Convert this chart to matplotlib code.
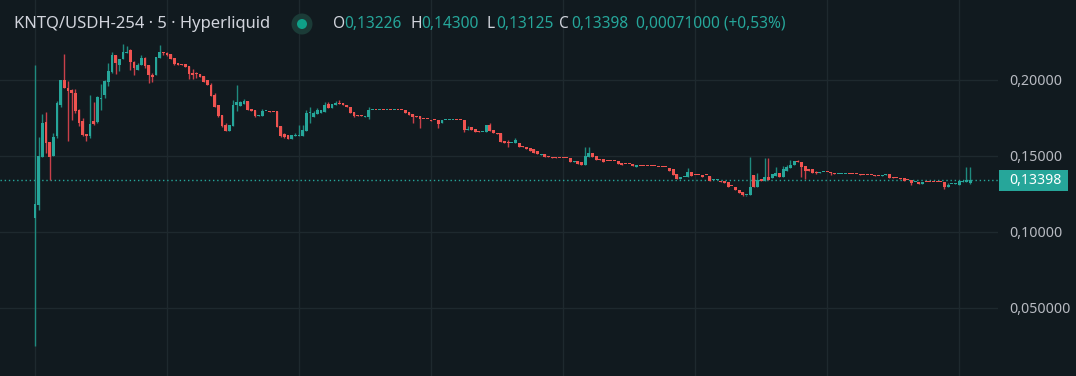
import matplotlib
matplotlib.use("Agg")
import matplotlib.pyplot as plt
from matplotlib.patches import Rectangle, Ellipse

# ---------------- data (5-minute candles) ----------------
opens = [
    0.1092, 0.1178, 0.1495, 0.1726, 0.1592, 0.1500, 0.1632, 0.1836, 0.2000, 0.1947,
    0.1934, 0.1914, 0.1803, 0.1730, 0.1645, 0.1632, 0.1730, 0.1724, 0.1875, 0.1901,
    0.1989, 0.2053, 0.2164, 0.2099, 0.2138, 0.2178, 0.2197, 0.2118, 0.2066, 0.2099,
    0.2145, 0.2099, 0.2033, 0.2033, 0.2145, 0.2184, 0.2178, 0.2171, 0.2145, 0.2112,
    0.2105, 0.2105, 0.2092, 0.2046, 0.2046, 0.2039, 0.2026, 0.2000, 0.1967, 0.1901,
    0.1836, 0.1770, 0.1704, 0.1664, 0.1697, 0.1836, 0.1829, 0.1842, 0.1862, 0.1810,
    0.1803, 0.1763, 0.1763, 0.1796, 0.1796, 0.1790, 0.1796, 0.1700, 0.1645, 0.1638,
    0.1614, 0.1634, 0.1634, 0.1632, 0.1664, 0.1783, 0.1757, 0.1776, 0.1785, 0.1791,
    0.1842, 0.1818, 0.1836, 0.1851, 0.1847, 0.1838, 0.1825, 0.1790, 0.1768, 0.1767,
    0.1759, 0.1759, 0.1800, 0.1803, 0.1800, 0.1803, 0.1800, 0.1803, 0.1800, 0.1803,
    0.1803, 0.1803, 0.1787, 0.1774, 0.1763, 0.1763, 0.1744, 0.1743, 0.1737, 0.1737,
    0.1737, 0.1719, 0.1735, 0.1735, 0.1736, 0.1737, 0.1737, 0.1737, 0.1671, 0.1689,
    0.1675, 0.1667, 0.1656, 0.1656, 0.1704, 0.1671, 0.1651, 0.1653, 0.1599, 0.1588,
    0.1584, 0.1584, 0.1588, 0.1566, 0.1557, 0.1553, 0.1544, 0.1533, 0.1507, 0.1513,
    0.1500, 0.1493, 0.1491, 0.1485, 0.1485, 0.1485, 0.1485, 0.1463, 0.1467, 0.1459,
    0.1443, 0.1496, 0.1522, 0.1500, 0.1480, 0.1480, 0.1467, 0.1467, 0.1467, 0.1467,
    0.1456, 0.1446, 0.1446, 0.1447, 0.1428, 0.1435, 0.1435, 0.1435, 0.1435, 0.1433,
    0.1429, 0.1429, 0.1427, 0.1421, 0.1412, 0.1382, 0.1351, 0.1360, 0.1360, 0.1395,
    0.1374, 0.1374, 0.1373, 0.1376, 0.1368, 0.1341, 0.1341, 0.1338, 0.1336, 0.1329,
    0.1301, 0.1298, 0.1276, 0.1262, 0.1242, 0.1243, 0.1375, 0.1298, 0.1346, 0.1338,
    0.1360, 0.1355, 0.1368, 0.1390, 0.1364, 0.1404, 0.1419, 0.1439, 0.1465, 0.1463,
    0.1434, 0.1412, 0.1412, 0.1397, 0.1390, 0.1395, 0.1394, 0.1393, 0.1386, 0.1380,
    0.1380, 0.1380, 0.1381, 0.1381, 0.1381, 0.1380, 0.1377, 0.1377, 0.1377, 0.1376,
    0.1370, 0.1371, 0.1375, 0.1382, 0.1360, 0.1358, 0.1358, 0.1355, 0.1341, 0.1342,
    0.1326, 0.1329, 0.1318, 0.1328, 0.1328, 0.1328, 0.1328, 0.1328, 0.1327, 0.1298,
    0.1313, 0.1313, 0.1311, 0.1327, 0.1327, 0.13226,
]
highs = [
    0.2099, 0.1625, 0.1776, 0.1789, 0.1592, 0.1651, 0.1862, 0.2000, 0.2171, 0.1993,
    0.1943, 0.1940, 0.1810, 0.1750, 0.1645, 0.1901, 0.1855, 0.1895, 0.1974, 0.2000,
    0.2112, 0.2184, 0.2164, 0.2138, 0.2237, 0.2224, 0.2204, 0.2125, 0.2112, 0.2164,
    0.2151, 0.2099, 0.2046, 0.2151, 0.2230, 0.2184, 0.2184, 0.2171, 0.2145, 0.2112,
    0.2105, 0.2105, 0.2092, 0.2072, 0.2052, 0.2039, 0.2026, 0.2000, 0.1980, 0.1914,
    0.1836, 0.1770, 0.1717, 0.1704, 0.1868, 0.1967, 0.1862, 0.1875, 0.1862, 0.1810,
    0.1803, 0.1770, 0.1810, 0.1799, 0.1796, 0.1790, 0.1796, 0.1700, 0.1651, 0.1638,
    0.1636, 0.1651, 0.1704, 0.1704, 0.1803, 0.1822, 0.1796, 0.1816, 0.1803, 0.1855,
    0.1855, 0.1840, 0.1860, 0.1868, 0.1847, 0.1838, 0.1825, 0.1790, 0.1768, 0.1767,
    0.1766, 0.1822, 0.1803, 0.1803, 0.1803, 0.1803, 0.1803, 0.1803, 0.1803, 0.1803,
    0.1803, 0.1803, 0.1787, 0.1774, 0.1763, 0.1763, 0.1744, 0.1743, 0.1737, 0.1737,
    0.1737, 0.1737, 0.1737, 0.1737, 0.1737, 0.1737, 0.1737, 0.1737, 0.1697, 0.1689,
    0.1675, 0.1667, 0.1658, 0.1704, 0.1717, 0.1671, 0.1651, 0.1653, 0.1599, 0.1605,
    0.1585, 0.1618, 0.1588, 0.1566, 0.1557, 0.1553, 0.1544, 0.1533, 0.1513, 0.1513,
    0.1500, 0.1493, 0.1491, 0.1485, 0.1485, 0.1485, 0.1485, 0.1467, 0.1467, 0.1459,
    0.1557, 0.1557, 0.1522, 0.1500, 0.1480, 0.1480, 0.1467, 0.1467, 0.1467, 0.1467,
    0.1456, 0.1446, 0.1446, 0.1447, 0.1439, 0.1435, 0.1435, 0.1435, 0.1435, 0.1433,
    0.1429, 0.1429, 0.1427, 0.1421, 0.1412, 0.1382, 0.1364, 0.1361, 0.1419, 0.1395,
    0.1374, 0.1374, 0.1373, 0.1376, 0.1368, 0.1342, 0.1342, 0.1338, 0.1336, 0.1329,
    0.1301, 0.1298, 0.1276, 0.1262, 0.1245, 0.1496, 0.1375, 0.1390, 0.1346, 0.1485,
    0.1485, 0.1382, 0.1430, 0.1390, 0.1435, 0.1441, 0.1474, 0.1465, 0.1474, 0.1463,
    0.1434, 0.1412, 0.1412, 0.1401, 0.1397, 0.1396, 0.1394, 0.1393, 0.1386, 0.1381,
    0.1381, 0.1381, 0.1381, 0.1381, 0.1381, 0.1380, 0.1377, 0.1377, 0.1377, 0.1376,
    0.1370, 0.1375, 0.1381, 0.1382, 0.1360, 0.1358, 0.1358, 0.1355, 0.1341, 0.1342,
    0.1327, 0.1329, 0.1331, 0.1328, 0.1328, 0.1328, 0.1328, 0.1328, 0.1327, 0.1320,
    0.1314, 0.1320, 0.1333, 0.1336, 0.1430, 0.14300,
]
lows = [
    0.0250, 0.1145, 0.1495, 0.1522, 0.1342, 0.1500, 0.1618, 0.1822, 0.1947, 0.1599,
    0.1737, 0.1783, 0.1697, 0.1632, 0.1599, 0.1618, 0.1704, 0.1717, 0.1803, 0.1882,
    0.1960, 0.2046, 0.2039, 0.2059, 0.2138, 0.2178, 0.2066, 0.2033, 0.2066, 0.2099,
    0.2079, 0.1980, 0.1987, 0.2033, 0.2145, 0.2164, 0.2158, 0.2138, 0.2099, 0.2099,
    0.2099, 0.2086, 0.2007, 0.2007, 0.2013, 0.2020, 0.1987, 0.1967, 0.1895, 0.1822,
    0.1757, 0.1691, 0.1664, 0.1664, 0.1697, 0.1796, 0.1829, 0.1842, 0.1803, 0.1796,
    0.1757, 0.1763, 0.1763, 0.1794, 0.1790, 0.1789, 0.1693, 0.1627, 0.1618, 0.1614,
    0.1614, 0.1634, 0.1632, 0.1632, 0.1664, 0.1717, 0.1757, 0.1776, 0.1785, 0.1791,
    0.1818, 0.1818, 0.1836, 0.1842, 0.1834, 0.1825, 0.1785, 0.1757, 0.1766, 0.1765,
    0.1759, 0.1746, 0.1800, 0.1800, 0.1800, 0.1800, 0.1800, 0.1800, 0.1800, 0.1800,
    0.1800, 0.1785, 0.1770, 0.1719, 0.1755, 0.1686, 0.1743, 0.1742, 0.1728, 0.1736,
    0.1686, 0.1719, 0.1735, 0.1735, 0.1736, 0.1735, 0.1735, 0.1660, 0.1671, 0.1671,
    0.1660, 0.1658, 0.1656, 0.1656, 0.1667, 0.1650, 0.1645, 0.1595, 0.1583, 0.1561,
    0.1583, 0.1584, 0.1561, 0.1556, 0.1544, 0.1533, 0.1523, 0.1510, 0.1507, 0.1496,
    0.1496, 0.1489, 0.1485, 0.1484, 0.1484, 0.1484, 0.1463, 0.1463, 0.1447, 0.1443,
    0.1443, 0.1496, 0.1496, 0.1474, 0.1476, 0.1463, 0.1466, 0.1466, 0.1466, 0.1447,
    0.1443, 0.1445, 0.1445, 0.1434, 0.1428, 0.1434, 0.1434, 0.1434, 0.1434, 0.1432,
    0.1428, 0.1428, 0.1426, 0.1404, 0.1375, 0.1347, 0.1351, 0.1360, 0.1360, 0.1368,
    0.1373, 0.1373, 0.1364, 0.1375, 0.1338, 0.1341, 0.1341, 0.1331, 0.1320, 0.1298,
    0.1300, 0.1276, 0.1259, 0.1240, 0.1238, 0.1243, 0.1298, 0.1298, 0.1338, 0.1338,
    0.1342, 0.1355, 0.1368, 0.1364, 0.1364, 0.1404, 0.1419, 0.1439, 0.1461, 0.1364,
    0.1346, 0.1404, 0.1386, 0.1382, 0.1390, 0.1395, 0.1393, 0.1375, 0.1380, 0.1380,
    0.1380, 0.1380, 0.1380, 0.1380, 0.1380, 0.1377, 0.1376, 0.1376, 0.1376, 0.1370,
    0.1369, 0.1371, 0.1375, 0.1358, 0.1355, 0.1357, 0.1349, 0.1338, 0.1340, 0.1311,
    0.1326, 0.1318, 0.1318, 0.1327, 0.1327, 0.1327, 0.1327, 0.1327, 0.1283, 0.1298,
    0.1313, 0.1313, 0.1311, 0.1327, 0.1327, 0.13125,
]
closes = [
    0.1184, 0.1500, 0.1719, 0.1588, 0.1495, 0.1625, 0.1849, 0.2000, 0.1947, 0.1930,
    0.1916, 0.1796, 0.1719, 0.1638, 0.1632, 0.1710, 0.1710, 0.1888, 0.1882, 0.1993,
    0.2059, 0.2164, 0.2110, 0.2138, 0.2184, 0.2184, 0.2118, 0.2079, 0.2099, 0.2145,
    0.2092, 0.2033, 0.2020, 0.2151, 0.2184, 0.2175, 0.2164, 0.2138, 0.2105, 0.2099,
    0.2099, 0.2086, 0.2039, 0.2033, 0.2039, 0.2020, 0.1987, 0.1967, 0.1895, 0.1825,
    0.1765, 0.1697, 0.1664, 0.1704, 0.1836, 0.1855, 0.1855, 0.1862, 0.1803, 0.1796,
    0.1763, 0.1770, 0.1796, 0.1797, 0.1790, 0.1789, 0.1693, 0.1632, 0.1627, 0.1614,
    0.1636, 0.1638, 0.1638, 0.1671, 0.1783, 0.1790, 0.1785, 0.1803, 0.1803, 0.1836,
    0.1818, 0.1840, 0.1851, 0.1842, 0.1834, 0.1825, 0.1785, 0.1765, 0.1766, 0.1765,
    0.1766, 0.1803, 0.1803, 0.1800, 0.1803, 0.1800, 0.1803, 0.1800, 0.1803, 0.1800,
    0.1800, 0.1785, 0.1770, 0.1755, 0.1755, 0.1742, 0.1743, 0.1742, 0.1728, 0.1736,
    0.1708, 0.1737, 0.1737, 0.1737, 0.1737, 0.1735, 0.1735, 0.1671, 0.1680, 0.1671,
    0.1660, 0.1658, 0.1658, 0.1704, 0.1667, 0.1650, 0.1645, 0.1595, 0.1583, 0.1584,
    0.1584, 0.1605, 0.1561, 0.1556, 0.1544, 0.1533, 0.1523, 0.1510, 0.1513, 0.1496,
    0.1496, 0.1489, 0.1485, 0.1484, 0.1484, 0.1484, 0.1463, 0.1467, 0.1447, 0.1443,
    0.1500, 0.1522, 0.1496, 0.1474, 0.1476, 0.1463, 0.1466, 0.1466, 0.1466, 0.1447,
    0.1443, 0.1445, 0.1445, 0.1434, 0.1439, 0.1434, 0.1434, 0.1434, 0.1434, 0.1432,
    0.1428, 0.1428, 0.1426, 0.1404, 0.1375, 0.1347, 0.1364, 0.1361, 0.1395, 0.1368,
    0.1373, 0.1373, 0.1364, 0.1375, 0.1338, 0.1342, 0.1342, 0.1331, 0.1320, 0.1298,
    0.1300, 0.1276, 0.1259, 0.1242, 0.1245, 0.1298, 0.1298, 0.1342, 0.1338, 0.1360,
    0.1342, 0.1382, 0.1390, 0.1364, 0.1414, 0.1426, 0.1441, 0.1465, 0.1461, 0.1426,
    0.1404, 0.1404, 0.1386, 0.1386, 0.1397, 0.1396, 0.1393, 0.1386, 0.1380, 0.1381,
    0.1381, 0.1381, 0.1380, 0.1380, 0.1380, 0.1377, 0.1376, 0.1376, 0.1376, 0.1370,
    0.1369, 0.1375, 0.1381, 0.1358, 0.1355, 0.1357, 0.1349, 0.1338, 0.1340, 0.1325,
    0.1327, 0.1318, 0.1331, 0.1327, 0.1327, 0.1327, 0.1327, 0.1327, 0.1298, 0.1311,
    0.1314, 0.1314, 0.1333, 0.1336, 0.1342, 0.13398,
]

ytick_vals = [0.05, 0.10, 0.15, 0.20]
ytick_labels = ["0,050000", "0,10000", "0,15000", "0,20000"]
title_text = "KNTQ/USDH-254 · 5 · Hyperliquid"
ohlc_letters = ["O", "H", "L", "C"]
ohlc_values = ["0,13226", "0,14300", "0,13125", "0,13398"]
change_text = "0,00071000 (+0,53%)"
last_price = 0.13398
last_label = "0,13398"

# ---------------- style ----------------
BG = "#111a1f"
GRID = "#1e292e"
UP = "#26a69a"
DOWN = "#ef5350"
UP_WICK = "#1f8a7e"
DOWN_WICK = "#c9404a"
TXT = "#d1d4dc"
AXTXT = "#b8bbc2"
FONT = ["Noto Sans", "DejaVu Sans"]

W, H = 1076, 376
fig = plt.figure(figsize=(W / 100, H / 100), dpi=100, facecolor=BG)
ax = fig.add_axes([0, 0, 998 / W, 1])
ax.set_facecolor(BG)
renderer = fig.canvas.get_renderer()

n = len(opens)
for i in range(n):
    o, h, l, c = opens[i], highs[i], lows[i], closes[i]
    up = c >= o
    ax.vlines(i, l, h, color=UP_WICK if up else DOWN_WICK, linewidth=1.0, zorder=3)
    bottom = min(o, c)
    height = max(abs(c - o), 0.00068)
    ax.bar(i, height, bottom=bottom, width=0.78, color=UP if up else DOWN,
           linewidth=0, zorder=4)

ax.set_xlim(-9.55, 262.6)
ax.set_ylim(0.00526, 0.25263)

ax.set_xticks(range(0, 256, 36))
ax.set_xticklabels([])
ax.set_yticks(ytick_vals)
ax.set_yticklabels(ytick_labels)
ax.yaxis.tick_right()
ax.tick_params(axis="both", length=0)
ax.tick_params(axis="y", pad=8, labelcolor=AXTXT, labelsize=10.2)
for lab in ax.get_yticklabels():
    lab.set_family(FONT)
ax.grid(True, color=GRID, linewidth=1.0, zorder=0)
ax.set_axisbelow(True)
for s in ax.spines.values():
    s.set_visible(False)

# last price dotted line
ax.axhline(last_price, color=UP, linewidth=1.0, linestyle=(0, (1, 2)), zorder=2)

# last price label box
ypix = ax.transData.transform((0, last_price))[1]
box_h = 20.5
fig.add_artist(Rectangle((999 / W, (ypix - box_h / 2) / H), 69 / W, box_h / H,
                         transform=fig.transFigure, facecolor=UP, edgecolor="none",
                         zorder=5))


def fit_text(x, y_center, s, target_w, color, base=10.0, weight="normal",
             ha="left", y_is_bottom_px=False):
    ypos = y_center / H if y_is_bottom_px else 1 - y_center / H
    t = fig.text(x / W, ypos, s, color=color, fontsize=base, family=FONT,
                 ha=ha, va="center", fontweight=weight, zorder=7)
    w = t.get_window_extent(renderer).width
    if w > 0:
        t.set_fontsize(base * target_w / w)
    return t


fit_text(1035, ypix, last_label, 52, "white", weight="bold", ha="center",
         y_is_bottom_px=True)

# ---------------- header ----------------
fit_text(14, 24, title_text, 257, TXT, weight="medium")

fig.add_artist(Ellipse((302 / W, 1 - 24 / H), 21 / W, 21 / H,
                       transform=fig.transFigure, facecolor="#1b3b37",
                       edgecolor="none", zorder=7))
fig.add_artist(Ellipse((302 / W, 1 - 24 / H), 10 / W, 10 / H,
                       transform=fig.transFigure, facecolor="#0fa088",
                       edgecolor="none", zorder=8))

letter_x = [333, 410, 486, 559]
value_x = [344, 421, 496, 571]
for lx, vx, let, val in zip(letter_x, value_x, ohlc_letters, ohlc_values):
    tv = fit_text(vx, 24, val, 57, UP)
    fig.text(lx / W, 1 - 24 / H, let, color=TXT, fontsize=tv.get_fontsize(),
             family=FONT, ha="left", va="center", fontweight="semibold", zorder=7)
fit_text(636, 24, change_text, 149, UP)

fig.savefig("out.png", dpi=100, facecolor=BG)
